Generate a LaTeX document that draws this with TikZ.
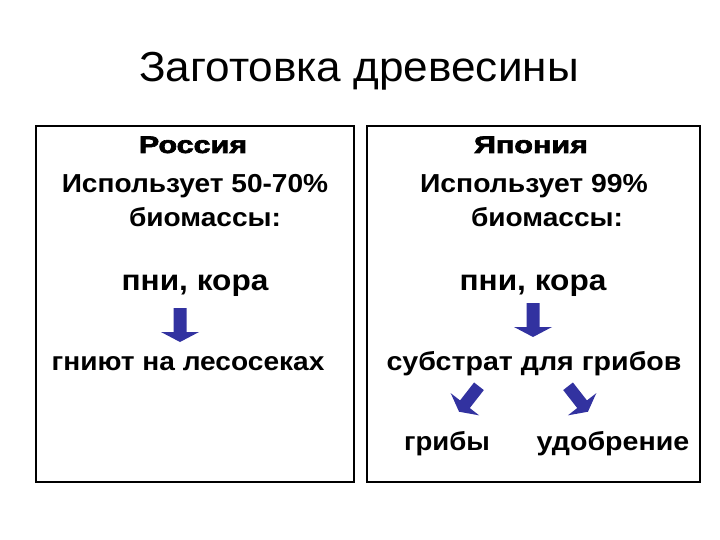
\documentclass[tikz,border=0pt]{standalone}
\usepackage{fontspec}
\usepackage{graphicx}
\setmainfont{Liberation Sans}
\newfontfamily\heavy[FakeBold=2.5]{Liberation Sans Bold}
\definecolor{arrowblue}{RGB}{50,50,160}
\newcommand{\sx}[2]{\scalebox{#1}[1]{#2}}
\begin{document}
\begin{tikzpicture}[x=1pt,y=-1pt,
  title/.style={anchor=base,inner sep=0pt,font=\fontsize{42}{46}\selectfont},
  head/.style={anchor=base,inner sep=0pt,font=\fontsize{24}{27}\heavy},
  body/.style={anchor=base,inner sep=0pt,font=\fontsize{26}{29}\selectfont\bfseries},
  bodybig/.style={anchor=base,inner sep=0pt,font=\fontsize{29}{32}\selectfont\bfseries},
  panel/.style={draw=black,line width=2.2pt},
  blockarrow/.style={fill=arrowblue,draw=none}]
\useasboundingbox (0,0) rectangle (720,540);
\fill[white] (0,0) rectangle (720,540);
% title
\node[title] (t) at (359,82) {\sx{1.05}{Заготовка древесины}};
% panels
\draw[panel] (36,126) rectangle (354,482);
\draw[panel] (367,126) rectangle (700,482);
% left panel
\node[head] (ru) at (193,153) {\sx{1.27}{Россия}};
\node[body] (ru1) at (195,193) {\sx{1.08}{Использует 50-70\%}};
\node[body] (ru2) at (205,226) {\sx{1.08}{биомассы:}};
\node[bodybig] (ru3) at (195,290) {\sx{1.09}{пни, кора}};
\node[body] (ru4) at (188,370) {\sx{1.08}{гниют на лесосеках}};
% right panel
\node[head] (jp) at (531,153) {\sx{1.27}{Япония}};
\node[body] (jp1) at (534,193) {\sx{1.09}{Использует 99\%}};
\node[body] (jp2) at (547,226) {\sx{1.08}{биомассы:}};
\node[bodybig] (jp3) at (533,290) {\sx{1.09}{пни, кора}};
\node[body] (jp4) at (534,370) {\sx{1.10}{субстрат для грибов}};
\node[body] (jp5) at (447,450) {\sx{1.06}{грибы}};
\node[body] (jp6) at (613,450) {\sx{1.10}{удобрение}};
% block arrows (local shape: top at y=-17, tip at y=+17)
\def\barrow{(-6.5,-17) -- (6.5,-17) -- (6.5,7) -- (19,7) -- (0,17) -- (-19,7) -- (-6.5,7) -- cycle}
\fill[blockarrow,shift={(180,325)}] \barrow;
\fill[blockarrow,shift={(533,320)}] \barrow;
\fill[blockarrow,shift={(469,399)},rotate=-38,scale=0.95] \barrow;
\fill[blockarrow,shift={(578,399)},rotate=38,scale=0.95] \barrow;
\end{tikzpicture}
\end{document}
